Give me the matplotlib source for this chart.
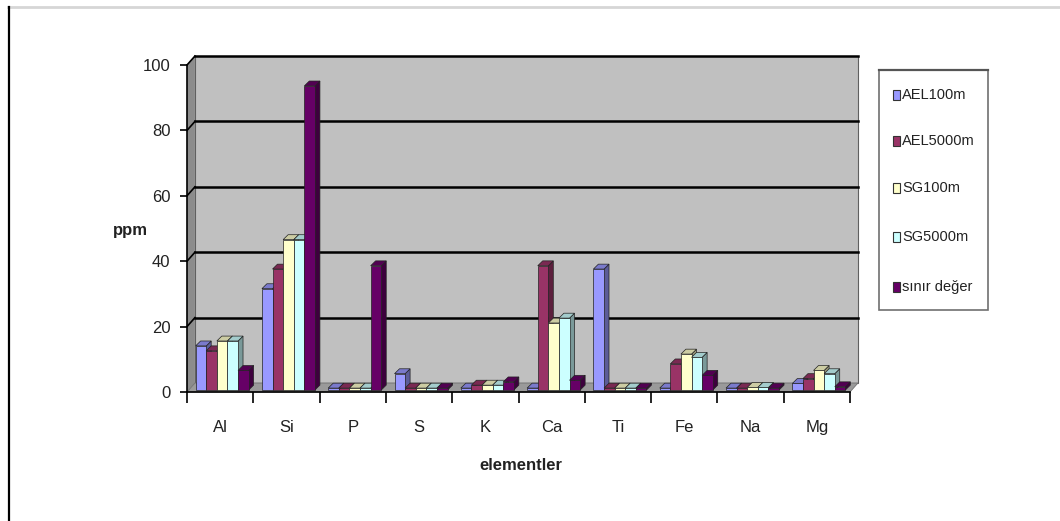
import matplotlib.pyplot as plt
from matplotlib.patches import Polygon, Rectangle
import matplotlib.colors as mcolors
import numpy as np

plt.rcParams['font.family'] = ['Liberation Sans', 'DejaVu Sans']

elements = ['Al', 'Si', 'P', 'S', 'K', 'Ca', 'Ti', 'Fe', 'Na', 'Mg']
series_names = ['AEL100m', 'AEL5000m', 'SG100m', 'SG5000m', 'sınır değer']
ael100 = [13.5, 31, 0.6, 5, 0.6, 0.6, 37, 0.6, 0.6, 2]
ael5000 = [12, 37, 0.6, 0.6, 1.5, 38, 0.6, 8, 0.6, 3.5]
sg100 = [15, 46, 0.6, 0.6, 1.5, 20.5, 0.6, 11, 0.8, 6]
sg5000 = [15, 46, 0.6, 0.6, 1.5, 22, 0.6, 10, 0.8, 5]
limit = [6, 93, 38, 0.6, 2.5, 3, 0.6, 4.5, 0.6, 1]
values = [ael100, ael5000, sg100, sg5000, limit]
colors = ['#9999FF', '#993366', '#FFFFCC', '#CCFFFF', '#660066']


def shade(c, f):
    r, g, b = mcolors.to_rgb(c)
    return (r * f, g * f, b * f)


fig = plt.figure(figsize=(10.6, 5.21), dpi=100)
fig.patch.set_facecolor('white')

# pixel overlay for page lines, labels and legend
ov = fig.add_axes([0, 0, 1, 1])
ov.set_xlim(0, 1060)
ov.set_ylim(521, 0)
ov.axis('off')
ov.plot([8, 1060], [7, 7], color='#d6d6d6', lw=2)
ov.plot([8.5, 8.5], [7, 521], color='black', lw=1.6)

ax = fig.add_axes([187 / 1060, (521 - 392) / 521, 663 / 1060, 327 / 521])
ax.set_xlim(0, 10)
ax.set_ylim(0, 100)
ax.patch.set_alpha(0)

# 3D depth of walls and bars in data units
wdx, wdy = 0.12, 2.75
bdx, bdy = 0.075, 1.5
fdx, fdy = 0.03, 0.6

# back wall, side wall, floor
ax.add_patch(Polygon([(wdx, wdy), (10 + wdx, wdy), (10 + wdx, 100 + wdy), (wdx, 100 + wdy)],
                     closed=True, fc='#C0C0C0', ec='#606060', lw=0.8, clip_on=False, zorder=1))
ax.add_patch(Polygon([(0, 0), (wdx, wdy), (wdx, 100 + wdy), (0, 100)],
                     closed=True, fc='#8c8c8c', ec='none', clip_on=False, zorder=1))
ax.add_patch(Polygon([(0, 0), (10, 0), (10 + wdx, wdy), (wdx, wdy)],
                     closed=True, fc='#9a9a9a', ec='#707070', lw=0.6, clip_on=False, zorder=1))
for v in range(20, 101, 20):
    ax.plot([wdx, 10 + wdx], [v + wdy, v + wdy], color='black', lw=1.8, clip_on=False, zorder=2)
    ax.plot([0, wdx], [v, v + wdy], color='black', lw=1.2, clip_on=False, zorder=2)

# bars
bw = 0.16
for i in range(len(elements)):
    for k, (vals, c) in enumerate(zip(values, colors)):
        x0 = i + 0.1 + k * bw + fdx
        y0 = fdy
        v = vals[i] + fdy
        z = 3 + i * 0.1 + k * 0.01
        ax.add_patch(Polygon([(x0 + bw, y0), (x0 + bw + bdx, y0 + bdy), (x0 + bw + bdx, v + bdy), (x0 + bw, v)],
                             closed=True, fc=shade(c, 0.6), ec='#222222', lw=0.5, clip_on=False, zorder=z))
        ax.add_patch(Polygon([(x0, v), (x0 + bw, v), (x0 + bw + bdx, v + bdy), (x0 + bdx, v + bdy)],
                             closed=True, fc=shade(c, 0.8), ec='#222222', lw=0.5, clip_on=False, zorder=z))
        ax.add_patch(Rectangle((x0, y0), bw, vals[i], fc=c, ec='#222222', lw=0.5,
                               clip_on=False, zorder=z + 0.005))

# axes lines and ticks
for s in ['top', 'right']:
    ax.spines[s].set_visible(False)
ax.spines['left'].set_linewidth(1.2)
ax.spines['bottom'].set_linewidth(1.2)
ax.spines['left'].set_zorder(2)
ax.set_yticks(range(0, 101, 20))
ax.set_yticklabels([str(v) for v in range(0, 101, 20)], fontsize=12, color='#222222')
ax.set_xticks(np.arange(0, 11))
ax.set_xticklabels([])
ax.set_xticks(np.arange(10) + 0.5, minor=True)
ax.set_xticklabels(elements, minor=True, fontsize=12, color='#222222')
ax.tick_params(axis='x', which='major', direction='out', length=8, width=1.2)
ax.tick_params(axis='x', which='minor', length=0, pad=20)
ax.tick_params(axis='y', direction='out', length=5, width=1.2, pad=7)

ov.text(130, 230, 'ppm', fontsize=12, fontweight='bold', ha='center', va='center', color='#222222')
ov.text(521, 465, 'elementler', fontsize=12, fontweight='bold', ha='center', va='center', color='#222222')

# legend box
ov.add_patch(Rectangle((879, 70), 109, 240, fc='white', ec='#707070', lw=1.2))
ov.plot([879, 988], [70, 70], color='#555555', lw=1.6)
ly = [95, 141, 188, 237, 287]
for name, c, y in zip(series_names, colors, ly):
    ov.add_patch(Rectangle((893, y - 5), 7, 10, fc=c, ec='#333333', lw=0.8))
    ov.text(902, y, name, fontsize=10.5, ha='left', va='center', color='#222222')

fig.savefig('out.png', dpi=100)
